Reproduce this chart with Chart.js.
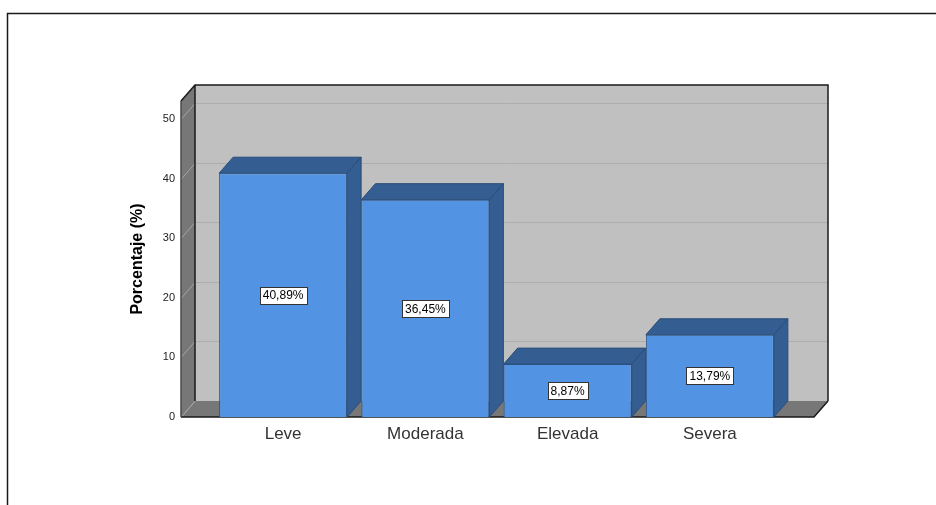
<!DOCTYPE html>
<html>
<head>
<meta charset="utf-8">
<script src="https://cdn.jsdelivr.net/npm/chart.js@4"></script>
<style>
  html, body { margin: 0; padding: 0; background: #ffffff; }
  canvas { display: block; }
</style>
</head>
<body>
<canvas id="grafico" width="936" height="505"></canvas>
<script>
// categorias y porcentajes
let categorias  = ["Leve", "Moderada", "Elevada", "Severa"]
let porcentajes = [40.89, 36.45, 8.87, 13.79]
let etiquetas   = ["40,89%", "36,45%", "8,87%", "13,79%"]
let ticksY      = [0, 10, 20, 30, 40, 50]

// profundidad del efecto 3D
let prof = { dx: 14, dy: -16 }

let marco = {
    id: "marco",
    beforeDraw(chart) {
        let ctx = chart.ctx
        ctx.save()
        ctx.strokeStyle = "#1a1a1a"
        ctx.lineWidth = 1.5
        ctx.beginPath()
        ctx.moveTo(7.5, 505)
        ctx.lineTo(7.5, 13.5)
        ctx.lineTo(936, 13.5)
        ctx.stroke()
        ctx.restore()
    }
}

let paredes = {
    id: "paredes",
    beforeDatasetsDraw(chart) {
        let ctx = chart.ctx
        let area = chart.chartArea
        let y = chart.scales.y
        let fl = area.left - 31
        let fr = area.right + 33
        let yTop = y.getPixelForValue(y.max)
        let y0 = y.getPixelForValue(0)
        let dx = prof.dx, dy = prof.dy

        ctx.save()
        // pared del fondo
        ctx.fillStyle = "#c0c0c0"
        ctx.fillRect(fl + dx, yTop + dy, fr - fl, y0 - yTop)

        // pared izquierda
        ctx.fillStyle = "#777777"
        ctx.beginPath()
        ctx.moveTo(fl, yTop)
        ctx.lineTo(fl + dx, yTop + dy)
        ctx.lineTo(fl + dx, y0 + dy)
        ctx.lineTo(fl, y0)
        ctx.closePath()
        ctx.fill()

        // suelo
        ctx.beginPath()
        ctx.moveTo(fl, y0)
        ctx.lineTo(fr, y0)
        ctx.lineTo(fr + dx, y0 + dy)
        ctx.lineTo(fl + dx, y0 + dy)
        ctx.closePath()
        ctx.fill()

        // lineas de cuadricula
        ctx.lineWidth = 1
        ticksY.forEach(v => {
            let py = Math.round(y.getPixelForValue(v)) + 0.5
            if (v > 0) {
                ctx.strokeStyle = "#adadad"
                ctx.beginPath()
                ctx.moveTo(fl + dx, py + dy)
                ctx.lineTo(fr + dx, py + dy)
                ctx.stroke()
            }
            ctx.strokeStyle = "#a4a4a4"
            ctx.beginPath()
            ctx.moveTo(fl, py)
            ctx.lineTo(fl + dx, py + dy)
            ctx.stroke()
        })

        // bordes
        ctx.strokeStyle = "#1a1a1a"
        ctx.lineWidth = 1.5
        ctx.beginPath()
        ctx.moveTo(fl, yTop)
        ctx.lineTo(fl + dx, yTop + dy)
        ctx.lineTo(fr + dx, yTop + dy)
        ctx.lineTo(fr + dx, y0 + dy)
        ctx.moveTo(fl + dx, yTop + dy)
        ctx.lineTo(fl + dx, y0 + dy)
        ctx.moveTo(fl, y0)
        ctx.lineTo(fr, y0)
        ctx.lineTo(fr + dx, y0 + dy)
        ctx.stroke()
        ctx.strokeStyle = "#4a4a4a"
        ctx.beginPath()
        ctx.moveTo(fl, yTop)
        ctx.lineTo(fl, y0)
        ctx.stroke()
        ctx.restore()
    },
    afterDatasetsDraw(chart) {
        let ctx = chart.ctx
        let dx = prof.dx, dy = prof.dy
        let barras = chart.getDatasetMeta(0).data
        ctx.save()
        barras.forEach((b, i) => {
            let p = b.getProps(["x", "y", "base", "width"], true)
            let x1 = p.x - p.width / 2
            let x2 = p.x + p.width / 2
            ctx.fillStyle = "#345d91"
            ctx.strokeStyle = "#2a4d7a"
            ctx.lineWidth = 1
            // cara superior
            ctx.beginPath()
            ctx.moveTo(x1, p.y)
            ctx.lineTo(x1 + dx, p.y + dy)
            ctx.lineTo(x2 + dx, p.y + dy)
            ctx.lineTo(x2, p.y)
            ctx.closePath()
            ctx.fill()
            ctx.stroke()
            // cara lateral
            ctx.beginPath()
            ctx.moveTo(x2, p.y)
            ctx.lineTo(x2 + dx, p.y + dy)
            ctx.lineTo(x2 + dx, p.base + dy)
            ctx.lineTo(x2, p.base)
            ctx.closePath()
            ctx.fill()
            ctx.stroke()

            // etiqueta del valor
            ctx.font = "12px 'Liberation Sans', Arial, sans-serif"
            let txt = etiquetas[i]
            let w = Math.round(ctx.measureText(txt).width) + 6
            let h = 17
            let cy = (p.y + p.base) / 2
            let bx = Math.round(p.x - w / 2) + 0.5
            let by = Math.round(cy - h / 2) + 0.5
            ctx.fillStyle = "#ffffff"
            ctx.fillRect(bx, by, w, h)
            ctx.strokeStyle = "#333333"
            ctx.strokeRect(bx, by, w, h)
            ctx.fillStyle = "#000000"
            ctx.textAlign = "center"
            ctx.textBaseline = "middle"
            ctx.fillText(txt, p.x, cy + 1)
        })
        ctx.restore()
    }
}

new Chart(document.getElementById("grafico"), {
    type: "bar",
    data: {
        labels: categorias,
        datasets: [{
            data: porcentajes,
            backgroundColor: "#5294e3",
            borderColor: "#2e5585",
            borderWidth: 1,
            categoryPercentage: 1,
            barPercentage: 0.9
        }]
    },
    options: {
        responsive: false,
        animation: false,
        events: [],
        layout: { padding: { left: 0, right: 155, top: 101, bottom: 28 } },
        plugins: {
            legend: { display: false },
            tooltip: { enabled: false }
        },
        scales: {
            x: {
                grid: { display: false, drawTicks: false },
                border: { display: false },
                ticks: {
                    color: "#333333",
                    padding: 7,
                    font: { family: "'Liberation Sans', Arial, sans-serif", size: 17 }
                },
                afterFit: s => { s.height = 60 }
            },
            y: {
                min: 0,
                max: 53,
                grid: { display: false, drawTicks: false },
                border: { display: false },
                afterBuildTicks: s => { s.ticks = ticksY.map(v => ({ value: v })) },
                ticks: {
                    color: "#222222",
                    padding: 37,
                    font: { family: "'Liberation Sans', Arial, sans-serif", size: 11 }
                },
                title: {
                    display: true,
                    text: "Porcentaje (%)",
                    color: "#000000",
                    padding: { top: 128, bottom: 0 },
                    font: { family: "'Liberation Sans', Arial, sans-serif", size: 16, weight: "bold" }
                },
                afterFit: s => { s.width = 212 }
            }
        }
    },
    plugins: [marco, paredes]
})
</script>
</body>
</html>
